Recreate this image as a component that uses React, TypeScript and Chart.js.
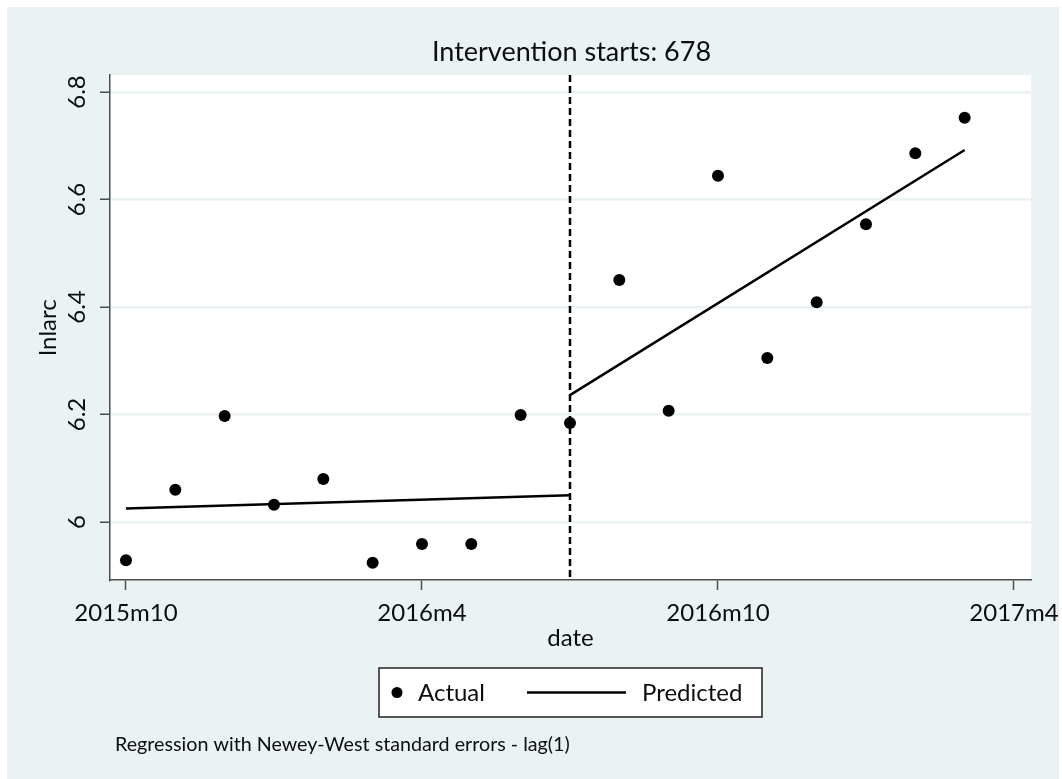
import React, { useEffect, useRef } from 'react';
import { Chart, registerables } from 'chart.js';

Chart.register(...registerables);

// ---------- data ----------
// Stata monthly date codes (669 = 2015m10 ... 686 = 2017m3)
const monthCodes = [669, 670, 671, 672, 673, 674, 675, 676, 677, 678, 679, 680, 681, 682, 683, 684, 685, 686];
const actualValues = [5.929, 6.06, 6.197, 6.032, 6.08, 5.924, 5.959, 5.959, 6.199, 6.184, 6.45, 6.207, 6.644, 6.305, 6.409, 6.554, 6.686, 6.752];
const predPreX = [669, 678];
const predPreY = [6.025, 6.05];
const predPostX = [678, 686];
const predPostY = [6.236, 6.692];
const interventionAt = 678;
const xTickValues = [669, 675, 681, 687];
const xTickLabels = ['2015m10', '2016m4', '2016m10', '2017m4'];
const yTickValues = [6, 6.2, 6.4, 6.6, 6.8];
const yTickLabels = ['6', '6.2', '6.4', '6.6', '6.8'];
const titleText = 'Intervention starts: 678';
const yTitle = 'lnlarc';
const xTitle = 'date';
const noteText = 'Regression with Newey-West standard errors - lag(1)';

// ---------- layout ----------
const W = 1052;
const H = 772;
const PLOT_LEFT = 103;
const PLOT_RIGHT = 1024;
const PLOT_TOP = 68;
const PLOT_BOTTOM = 573;
const X_MIN = 668.676;
const X_MAX = 687.345;
const Y_MIN = 5.8921;
const Y_MAX = 6.8316;
const BG = '#eaf2f3';
const AXIS = '#4d4d4d';
const FONT = 'Lato, "Open Sans", sans-serif';

const drawPlugin = {
  id: 'stataLook',
  beforeDraw(chart: any) {
    const { ctx, chartArea } = chart;
    ctx.save();
    ctx.fillStyle = BG;
    ctx.fillRect(0, 0, chart.width, chart.height);
    ctx.fillStyle = '#ffffff';
    ctx.fillRect(chartArea.left, chartArea.top, chartArea.right - chartArea.left, chartArea.bottom - chartArea.top);
    ctx.restore();
  },
  beforeDatasetsDraw(chart: any) {
    const { ctx, chartArea, scales } = chart;
    const x = scales.x.getPixelForValue(interventionAt);
    ctx.save();
    ctx.strokeStyle = '#000';
    ctx.lineWidth = 2.5;
    ctx.setLineDash([7, 4]);
    ctx.beginPath();
    ctx.moveTo(x, chartArea.top);
    ctx.lineTo(x, chartArea.bottom);
    ctx.stroke();
    ctx.restore();
  },
  afterDraw(chart: any) {
    const { ctx, chartArea, scales } = chart;
    const cx = (chartArea.left + chartArea.right) / 2;
    const cy = (chartArea.top + chartArea.bottom) / 2;
    ctx.save();
    ctx.fillStyle = '#0d0d0d';
    ctx.textAlign = 'center';
    ctx.textBaseline = 'middle';

    // title
    ctx.font = `27px ${FONT}`;
    ctx.fillText(titleText, cx + 1, 45);

    // y tick labels (rotated)
    ctx.font = `24px ${FONT}`;
    yTickValues.forEach((v, i) => {
      const py = scales.y.getPixelForValue(v);
      ctx.save();
      ctx.translate(70, py);
      ctx.rotate(-Math.PI / 2);
      ctx.fillText(yTickLabels[i], 0, 0);
      ctx.restore();
    });

    // y title
    ctx.save();
    ctx.translate(41, cy);
    ctx.rotate(-Math.PI / 2);
    ctx.fillText(yTitle, 0, 0);
    ctx.restore();

    // x tick labels
    xTickValues.forEach((v, i) => {
      const px = scales.x.getPixelForValue(v);
      ctx.fillText(xTickLabels[i], px, 606);
    });

    // x title
    ctx.fillText(xTitle, cx, 631);

    // legend
    const lx = 372, ly = 661, lw = 383, lh = 49;
    ctx.fillStyle = '#fff';
    ctx.fillRect(lx, ly, lw, lh);
    ctx.strokeStyle = '#222';
    ctx.lineWidth = 1.5;
    ctx.strokeRect(lx, ly, lw, lh);
    const my = ly + lh / 2;
    ctx.fillStyle = '#000';
    ctx.beginPath();
    ctx.arc(390, my, 5.5, 0, Math.PI * 2);
    ctx.fill();
    ctx.lineWidth = 2.5;
    ctx.strokeStyle = '#000';
    ctx.beginPath();
    ctx.moveTo(520, my);
    ctx.lineTo(619, my);
    ctx.stroke();
    ctx.fillStyle = '#0d0d0d';
    ctx.textAlign = 'left';
    ctx.font = `24px ${FONT}`;
    ctx.fillText(chart.data.datasets[0].label, 411, my + 1);
    ctx.fillText(chart.data.datasets[1].label, 635, my + 1);

    // note
    ctx.font = `19.7px ${FONT}`;
    ctx.fillText(noteText, 108, 738);
    ctx.restore();
  },
};

export default function App() {
  const ref = useRef<HTMLCanvasElement>(null);
  useEffect(() => {
    const canvas = ref.current;
    if (!canvas) return;
    const chart = new Chart(canvas, {
      type: 'scatter',
      data: {
        datasets: [
          {
            label: 'Actual',
            data: monthCodes.map((x, i) => ({ x, y: actualValues[i] })),
            showLine: false,
            pointRadius: 6,
            pointBackgroundColor: '#000',
            pointBorderColor: '#000',
            pointBorderWidth: 0,
            order: 0,
          },
          {
            label: 'Predicted',
            data: predPreX.map((x, i) => ({ x, y: predPreY[i] })),
            showLine: true,
            pointRadius: 0,
            borderColor: '#000',
            borderWidth: 2.5,
            order: 1,
          },
          {
            label: 'Predicted',
            data: predPostX.map((x, i) => ({ x, y: predPostY[i] })),
            showLine: true,
            pointRadius: 0,
            borderColor: '#000',
            borderWidth: 2.5,
            order: 1,
          },
        ],
      },
      options: {
        animation: false,
        responsive: false,
        maintainAspectRatio: false,
        events: [],
        layout: { padding: { top: PLOT_TOP, right: W - PLOT_RIGHT, left: 0, bottom: 0 } },
        plugins: {
          legend: { display: false },
          tooltip: { enabled: false },
          title: { display: false },
        },
        scales: {
          x: {
            type: 'linear',
            min: X_MIN,
            max: X_MAX,
            afterBuildTicks: (s: any) => {
              s.ticks = xTickValues.map((v) => ({ value: v }));
            },
            afterFit: (s: any) => {
              s.height = H - PLOT_BOTTOM;
            },
            ticks: { display: false },
            grid: {
              drawOnChartArea: false,
              drawTicks: true,
              tickLength: 10,
              tickColor: AXIS,
              tickWidth: 1.5,
            },
            border: { color: AXIS, width: 1.5 },
          },
          y: {
            type: 'linear',
            min: Y_MIN,
            max: Y_MAX,
            afterBuildTicks: (s: any) => {
              s.ticks = yTickValues.map((v) => ({ value: v }));
            },
            afterFit: (s: any) => {
              s.width = PLOT_LEFT;
            },
            ticks: { display: false },
            grid: {
              drawOnChartArea: true,
              color: BG,
              lineWidth: 2.5,
              drawTicks: true,
              tickLength: 10,
              tickColor: AXIS,
              tickWidth: 1.5,
            },
            border: { color: AXIS, width: 1.5 },
          },
        },
      },
      plugins: [drawPlugin],
    });
    return () => chart.destroy();
  }, []);

  return (
    <div style={{ position: 'fixed', left: 7, top: 7, width: W, height: H }}>
      <canvas ref={ref} width={W} height={H} style={{ display: 'block', width: W, height: H }} />
    </div>
  );
}
